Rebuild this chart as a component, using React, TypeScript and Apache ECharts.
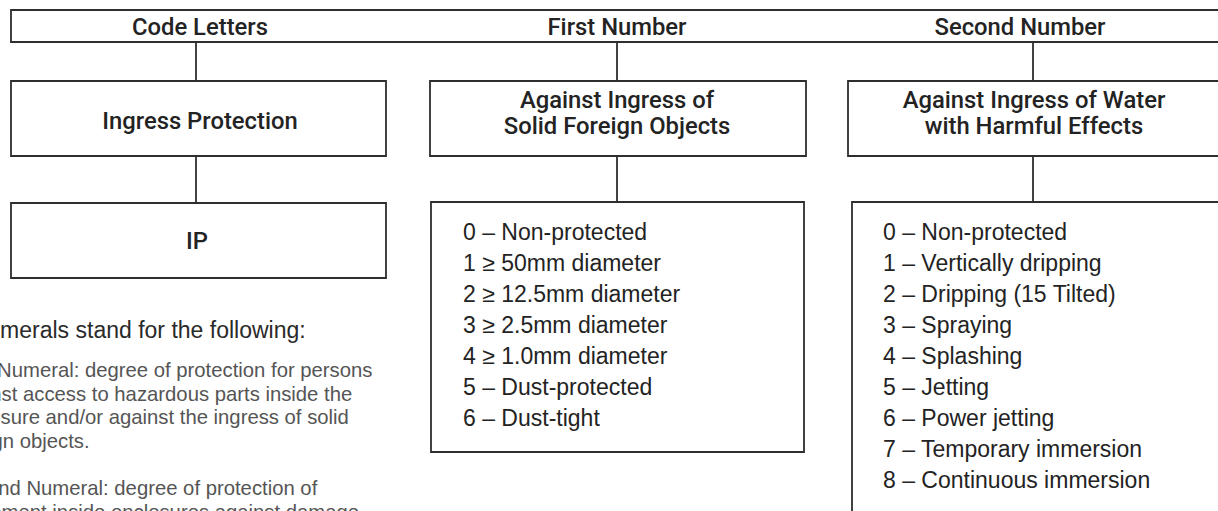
import React, { useEffect, useRef } from "react";
import * as echarts from "echarts";

const headerLabels = ["Code Letters", "First Number", "Second Number"];
const categoryLabels = [["Ingress Protection"], ["Against Ingress of", "Solid Foreign Objects"], ["Against Ingress of Water", "with Harmful Effects"]];
const codeLetters = ["IP"];
const firstNumberLevels = [
  "0 – Non-protected",
  "1 ≥ 50mm diameter",
  "2 ≥ 12.5mm diameter",
  "3 ≥ 2.5mm diameter",
  "4 ≥ 1.0mm diameter",
  "5 – Dust-protected",
  "6 – Dust-tight",
];
const secondNumberLevels = [
  "0 – Non-protected",
  "1 – Vertically dripping",
  "2 – Dripping (15 Tilted)",
  "3 – Spraying",
  "4 – Splashing",
  "5 – Jetting",
  "6 – Power jetting",
  "7 – Temporary immersion",
  "8 – Continuous immersion",
];
const noteTitle = "The numerals stand for the following:";
const noteLines = [
  "First Numeral: degree of protection for persons",
  "against access to hazardous parts inside the",
  "enclosure and/or against the ingress of solid",
  "foreign objects.",
  "",
  "Second Numeral: degree of protection of",
  "equipment inside enclosures against damage",
];

const FONT = "'Liberation Sans', Arial, Helvetica, sans-serif";
const HFONT = "Roboto, 'Liberation Sans', Arial, sans-serif";
const LINE = "#2e2e2e";
const TXT = "#232323";

export default function App() {
  const ref = useRef<HTMLDivElement>(null);
  useEffect(() => {
    document.body.style.margin = "0";
    const chart = echarts.init(ref.current!, null, { renderer: "svg" });
    const lw = 1.8;
    const rect = (x: number, y: number, w: number, h: number) => ({
      type: "rect",
      shape: { x, y, width: w, height: h },
      style: { fill: "#fff", stroke: LINE, lineWidth: lw },
    });
    const vline = (x: number, y1: number, y2: number) => ({
      type: "line",
      shape: { x1: x, y1, x2: x, y2 },
      style: { stroke: LINE, lineWidth: lw },
    });
    const ctext = (t: string, x: number, y: number) => ({
      type: "text",
      x,
      y,
      style: {
        text: t,
        fill: TXT,
        fontFamily: HFONT,
        fontSize: 23.8,
        fontWeight: 500,
        align: "center",
        verticalAlign: "middle",
      },
    });
    const ltext = (t: string, x: number, y: number, size: number, color: string) => ({
      type: "text",
      x,
      y,
      style: {
        text: t,
        fill: color,
        fontFamily: FONT,
        fontSize: size,
        align: "left",
        verticalAlign: "middle",
      },
    });

    const cols = [196, 617, 1033];
    const headerX = [200, 617, 1020];
    const elements: any[] = [];
    cols.forEach((cx) => {
      elements.push(vline(cx, 42, 81));
      elements.push(vline(cx, 156, 203));
    });
    elements.push(rect(11, 10, 1240, 32));
    headerLabels.forEach((h, i) => elements.push(ctext(h, headerX[i], 27)));
    const catBoxes = [
      [11, 375],
      [430, 376],
      [848, 400],
    ];
    catBoxes.forEach(([x, w], i) => {
      elements.push(rect(x, 81, w, 75));
      const lines = categoryLabels[i];
      if (lines.length === 1) elements.push(ctext(lines[0], cols[i] + 4, 120.5));
      else lines.forEach((l, j) => elements.push(ctext(l, cols[i] + (i === 2 ? 1 : 0), 100 + j * 26)));
    });
    elements.push(rect(11, 203, 375, 75));
    elements.push(ctext(codeLetters[0], 197, 241));
    elements.push(rect(431, 202, 373, 250));
    firstNumberLevels.forEach((t, i) => elements.push(ltext(t, 463, 232 + i * 31, 23, TXT)));
    elements.push(rect(852, 202, 400, 340));
    secondNumberLevels.forEach((t, i) => elements.push(ltext(t, 883, 232 + i * 31, 23, TXT)));
    elements.push(ltext(noteTitle, -71.5, 330, 23, "#2a2a2a"));
    noteLines.forEach((t, i) => {
      if (t) elements.push(ltext(t, -48, 370 + i * 23.6, 20.3, "#555"));
    });

    chart.setOption({
      animation: false,
      backgroundColor: "#fff",
      graphic: { elements },
    });
    return () => chart.dispose();
  }, []);
  return <div ref={ref} style={{ width: 1218, height: 511 }} />;
}
